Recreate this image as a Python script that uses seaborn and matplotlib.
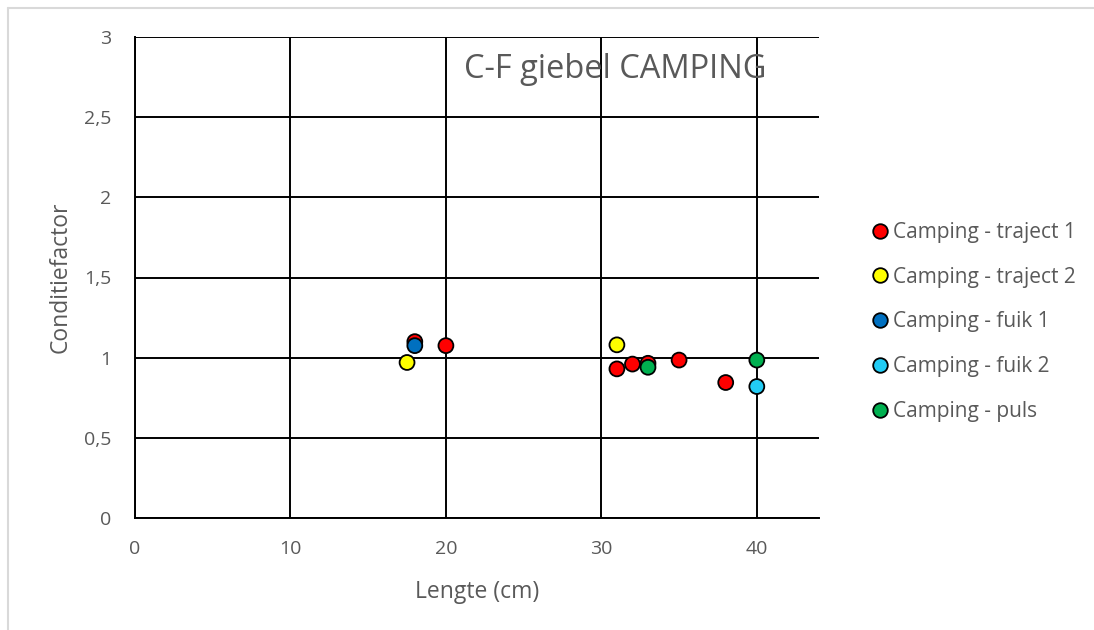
import matplotlib
matplotlib.use("Agg")
import matplotlib.pyplot as plt
import seaborn as sns
import pandas as pd
from matplotlib.lines import Line2D

# Length (cm) and condition factor per sampling group
traject1_len = [18, 20, 31, 32, 33, 35, 38]
traject1_cf = [1.10, 1.075, 0.93, 0.96, 0.965, 0.985, 0.845]
traject2_len = [17.5, 31]
traject2_cf = [0.97, 1.08]
fuik1_len = [18]
fuik1_cf = [1.075]
fuik2_len = [40]
fuik2_cf = [0.82]
puls_len = [33, 40]
puls_cf = [0.94, 0.985]

groups = ["Camping - traject 1", "Camping - traject 2", "Camping - fuik 1",
          "Camping - fuik 2", "Camping - puls"]
colors = ["#ff0000", "#ffff00", "#0070c0", "#22ccf5", "#00b050"]

frames = []
for g, xs, ys in zip(groups,
                     [traject1_len, traject2_len, fuik1_len, fuik2_len, puls_len],
                     [traject1_cf, traject2_cf, fuik1_cf, fuik2_cf, puls_cf]):
    frames.append(pd.DataFrame({"Lengte": xs, "CF": ys, "groep": g}))
df = pd.concat(frames, ignore_index=True)

sns.set_theme(style="white")
plt.rcParams["font.family"] = ["Open Sans", "DejaVu Sans"]
text_grey = "#595959"

fig = plt.figure(figsize=(10.94, 6.30), dpi=100)
W, H = 1094, 630
ax = fig.add_axes([135 / W, 1 - 518 / H, (819 - 135) / W, (518 - 37) / H])

sns.scatterplot(data=df, x="Lengte", y="CF", hue="groep", hue_order=groups,
                palette=colors, s=115, edgecolor="black", linewidth=1.3,
                legend=False, ax=ax, zorder=3)

ax.set_xlim(0, 44)
ax.set_ylim(0, 3)
ax.set_xticks([0, 10, 20, 30, 40])
ax.set_yticks([0, 0.5, 1, 1.5, 2, 2.5, 3])
ax.set_yticklabels(["0", "0,5", "1", "1,5", "2", "2,5", "3"])
ax.grid(True, color="black", linewidth=1.4)
ax.set_axisbelow(True)
for side in ["top", "right"]:
    ax.spines[side].set_visible(False)
for side in ["left", "bottom"]:
    ax.spines[side].set_color("black")
    ax.spines[side].set_linewidth(1.4)
ax.tick_params(axis="both", length=0, labelsize=14, colors=text_grey)
ax.tick_params(axis="x", pad=16)
ax.tick_params(axis="y", pad=17)
ax.set_xlabel("Lengte (cm)", fontsize=16.5, color=text_grey, labelpad=16)
ax.set_ylabel("Conditiefactor", fontsize=16.5, color=text_grey, labelpad=8)

ax.text(615 / W, 1 - 70 / H, "C-F giebel CAMPING", transform=fig.transFigure,
        ha="center", va="center", fontsize=23.5, color=text_grey)

handles = [Line2D([0], [0], marker="o", linestyle="none", markersize=10.5,
                  markerfacecolor=c, markeredgecolor="black", markeredgewidth=1.3)
           for c in colors]
fig.legend(handles, groups, loc="center left", bbox_to_anchor=(874 / W, 1 - 322 / H),
           frameon=False, fontsize=15, labelcolor=text_grey, handlelength=0.6,
           handletextpad=0.3, labelspacing=1.14, borderaxespad=0, borderpad=0)

# light chart-area border
fig.add_artist(Line2D([8 / W, 8 / W], [0, 1 - 8 / H], transform=fig.transFigure,
                      color="#d9d9d9", linewidth=1.5))
fig.add_artist(Line2D([8 / W, 1], [1 - 8 / H, 1 - 8 / H], transform=fig.transFigure,
                      color="#d9d9d9", linewidth=1.5))

fig.savefig("out.png", dpi=100)
